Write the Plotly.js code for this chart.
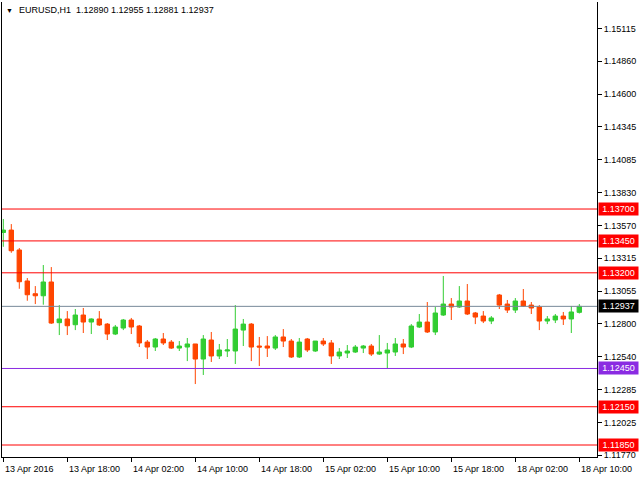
<!DOCTYPE html>
<html>
<head>
<meta charset="utf-8">
<script src="https://cdn.plot.ly/plotly-3.0.1.min.js"></script>
<style>html,body{margin:0;padding:0;background:#fff;}#chart{width:640px;height:480px;}</style>
</head>
<body>
<div id="chart"></div>
<script>
// ---- data ----
var sessions = [
  {day: "13 Apr", from: 10, to: 23},
  {day: "14 Apr", from: 0, to: 23},
  {day: "15 Apr", from: 0, to: 23},
  {day: "18 Apr", from: 0, to: 10}
];
var opens = [1.13516,1.13535,1.13379,1.13136,1.13036,1.13020,1.13128,1.12809,1.12838,1.12793,
  1.12869,1.12814,1.12838,1.12798,1.12720,1.12767,1.12830,1.12783,1.12657,1.12618,
  1.12681,1.12657,1.12610,1.12618,1.12642,1.12524,1.12673,1.12548,1.12587,1.12587,
  1.12751,1.12798,1.12626,1.12626,1.12610,1.12697,1.12665,1.12540,1.12681,1.12587,
  1.12665,1.12650,1.12548,1.12571,1.12579,1.12610,1.12626,1.12563,1.12571,1.12579,
  1.12642,1.12618,1.12775,1.12814,1.12736,1.12869,1.12955,1.12932,1.12979,1.12885,
  1.12861,1.12822,1.13026,1.12955,1.12908,1.12979,1.12947,1.12932,1.12822,1.12830,
  1.12861,1.12838,1.12890];
var highs = [1.13622,1.13582,1.13394,1.13159,1.13096,1.13261,1.13245,1.12947,1.12900,1.12916,
  1.12924,1.12843,1.12900,1.12806,1.12791,1.12838,1.12846,1.12791,1.12673,1.12689,
  1.12728,1.12673,1.12665,1.12689,1.12642,1.12712,1.12736,1.12642,1.12681,1.12947,
  1.12838,1.12806,1.12697,1.12704,1.12712,1.12759,1.12681,1.12689,1.12689,1.12665,
  1.12689,1.12673,1.12610,1.12634,1.12634,1.12634,1.12642,1.12712,1.12650,1.12689,
  1.12681,1.12798,1.12877,1.12971,1.12932,1.13175,1.13002,1.13096,1.13112,1.12893,
  1.12900,1.12861,1.13034,1.12987,1.13002,1.13073,1.12971,1.12947,1.12861,1.12877,
  1.12893,1.12940,1.12955];
var lows = [1.13404,1.13357,1.13075,1.12981,1.12955,1.12950,1.12799,1.12712,1.12712,1.12751,
  1.12728,1.12720,1.12783,1.12673,1.12712,1.12751,1.12720,1.12618,1.12524,1.12587,
  1.12634,1.12603,1.12587,1.12508,1.12328,1.12399,1.12501,1.12524,1.12540,1.12485,
  1.12626,1.12508,1.12469,1.12540,1.12595,1.12618,1.12532,1.12532,1.12579,1.12580,
  1.12626,1.12485,1.12524,1.12532,1.12572,1.12571,1.12548,1.12556,1.12446,1.12548,
  1.12563,1.12610,1.12767,1.12728,1.12712,1.12862,1.12830,1.12925,1.12869,1.12798,
  1.12806,1.12798,1.12916,1.12885,1.12885,1.12933,1.12877,1.12751,1.12798,1.12806,
  1.12791,1.12728,1.12881];
var closes = [1.13535,1.13373,1.13130,1.13028,1.13020,1.13128,1.12806,1.12838,1.12785,1.12869,
  1.12814,1.12838,1.12791,1.12720,1.12775,1.12830,1.12775,1.12650,1.12618,1.12681,
  1.12650,1.12610,1.12626,1.12642,1.12524,1.12681,1.12548,1.12595,1.12595,1.12759,
  1.12798,1.12618,1.12618,1.12610,1.12697,1.12665,1.12540,1.12657,1.12595,1.12665,
  1.12642,1.12548,1.12579,1.12587,1.12618,1.12626,1.12563,1.12579,1.12595,1.12642,
  1.12618,1.12783,1.12814,1.12736,1.12885,1.12955,1.12932,1.12979,1.12877,1.12853,
  1.12822,1.12846,1.12947,1.12908,1.12979,1.12940,1.12924,1.12822,1.12838,1.12861,
  1.12838,1.12893,1.12937];
var tickTimes = ["13 Apr 10:00","13 Apr 18:00","14 Apr 02:00","14 Apr 10:00","14 Apr 18:00",
  "15 Apr 02:00","15 Apr 10:00","15 Apr 18:00","18 Apr 02:00","18 Apr 10:00"];
var tickLabels = ["13 Apr 2016","13 Apr 18:00","14 Apr 02:00","14 Apr 10:00","14 Apr 18:00",
  "15 Apr 02:00","15 Apr 10:00","15 Apr 18:00","18 Apr 02:00","18 Apr 10:00"];
var priceTicks = [1.15115,1.14860,1.14600,1.14345,1.14085,1.13830,1.13570,1.13315,1.13055,
  1.12800,1.12540,1.12285,1.12025,1.11770];
var levelPrices = [1.13700,1.13450,1.13200,1.12937,1.12450,1.12150,1.11850];
var levelColors = ["#ff0000","#ff0000","#ff0000","#778899","#8a2be2","#ff0000","#ff0000"];
var levelBoxColors = ["#ff0000","#ff0000","#ff0000","#000000","#8a2be2","#ff0000","#ff0000"];
var titleText = "EURUSD,H1  1.12890 1.12955 1.12881 1.12937";

// ---- build ----
var times = [];
sessions.forEach(function (s) {
  for (var h = s.from; h <= s.to; h++) {
    times.push(s.day + " " + (h < 10 ? "0" : "") + h + ":00");
  }
});

var FONT = "Liberation Sans, Arial, sans-serif";

var trace = {
  type: "candlestick",
  x: times, open: opens, high: highs, low: lows, close: closes,
  increasing: {line: {color: "#32cd32", width: 1}, fillcolor: "#32cd32"},
  decreasing: {line: {color: "#ff4500", width: 1}, fillcolor: "#ff4500"},
  whiskerwidth: 0,
  hoverinfo: "none",
  showlegend: false
};

var shapes = levelPrices.map(function (p, i) {
  return {type: "line", xref: "paper", x0: 0, x1: 1, yref: "y", y0: p, y1: p,
    line: {color: levelColors[i], width: 1}};
});

var annotations = [];
levelPrices.forEach(function (p, i) {
  annotations.push({xref: "paper", x: 1, xanchor: "left", xshift: 1, yref: "y", y: p,
    yanchor: "middle", text: p.toFixed(5), showarrow: false, bgcolor: levelBoxColors[i],
    width: 37, height: 10, borderpad: 1, align: "center",
    font: {family: FONT, size: 9, color: "#ffffff"}});
});
tickTimes.forEach(function (t, i) {
  annotations.push({xref: "x", x: times.indexOf(t), xanchor: "left", xshift: 1,
    yref: "paper", y: 0, yanchor: "middle", yshift: -12, text: tickLabels[i],
    showarrow: false, borderpad: 0, font: {family: FONT, size: 9, color: "#000000"}});
});
annotations.push({xref: "paper", x: 0, xanchor: "left", xshift: 16, yref: "paper", y: 1,
  yanchor: "middle", yshift: -8, text: titleText, showarrow: false, borderpad: 0,
  font: {family: FONT, size: 9, color: "#000000"}});
annotations.push({xref: "paper", x: 0, xanchor: "left", xshift: 3, yref: "paper", y: 1,
  yanchor: "middle", yshift: -8, text: "▼", showarrow: false, borderpad: 0,
  font: {family: FONT, size: 7, color: "#000000"}});

var layout = {
  width: 640, height: 480,
  margin: {l: 2, r: 43, t: 2, b: 23, pad: 0},
  paper_bgcolor: "#ffffff", plot_bgcolor: "#ffffff",
  showlegend: false,
  boxgap: 0.45, boxgroupgap: 0,
  xaxis: {
    type: "category", range: [-0.1625, 74.21], rangeslider: {visible: false},
    showgrid: false, zeroline: false, showline: true, linecolor: "#000000", linewidth: 1,
    ticks: "outside", ticklen: 4, tickcolor: "#000000", tickwidth: 1,
    tickvals: tickTimes, showticklabels: false, fixedrange: true
  },
  yaxis: {
    side: "right", range: [1.11756, 1.15323],
    showgrid: false, zeroline: false, showline: true, mirror: true,
    linecolor: "#000000", linewidth: 1,
    ticks: "outside", ticklen: 4, tickcolor: "#000000", tickwidth: 1,
    tickvals: priceTicks, ticktext: priceTicks.map(function (v) { return v.toFixed(5); }),
    tickfont: {family: FONT, size: 9, color: "#000000"}, fixedrange: true
  },
  shapes: shapes,
  annotations: annotations
};

Plotly.newPlot("chart", [trace], layout, {staticPlot: true, displayModeBar: false});
</script>
</body>
</html>
